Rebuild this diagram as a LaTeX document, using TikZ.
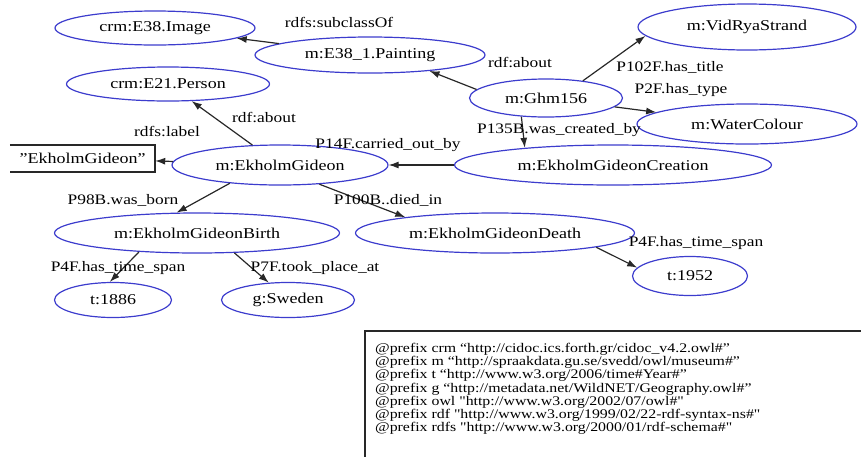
\documentclass[tikz,border=0pt]{standalone}
\usepackage{fontspec}
\usetikzlibrary{shapes.geometric,arrows.meta}
\newfontfamily\rdffont[FakeStretch=1.2]{Liberation Serif}
\definecolor{nodeblue}{RGB}{60,60,205}
\definecolor{edgegray}{RGB}{40,40,40}

\begin{document}
\begin{tikzpicture}[x=1pt, y=-1pt,
	main/.style = {draw=nodeblue, ellipse, line width=1.2pt, inner sep=0pt, font=\rdffont\fontsize{15}{18}\selectfont},
	wh/.style 2 args = {minimum width=#1pt, minimum height=#2pt},
	lit/.style = {rectangle, inner sep=0pt, font=\rdffont\fontsize{15}{18}\selectfont},
	lbl/.style = {inner sep=0pt, font=\rdffont\fontsize{14.5}{17}\selectfont},
	arr/.style = {-{Latex[length=10pt,width=7pt]}, draw=edgegray, line width=1.2pt}]
	\useasboundingbox (0,0) rectangle (861,456);
	\node[main, wh={200}{34}] (img) at (155,28) {crm:E38.Image};
	\node[main, wh={230}{36}] (pnt) at (370,55) {m:E38\_1.Painting};
	\node[main, wh={203}{34}] (per) at (168,84) {crm:E21.Person};
	\node[main, wh={218}{46}] (vid) at (747,27) {m:VidRyaStrand};
	\node[main, wh={153}{38}] (ghm) at (546,98) {m:Ghm156};
	\node[main, wh={220}{40}] (wat) at (747,124) {m:WaterColour};
	\node[main, wh={317}{40}] (cre) at (613,165) {m:EkholmGideonCreation};
	\node[main, wh={216}{40}] (eg) at (280,165) {m:EkholmGideon};
	\node[lit, wh={145}{27}] (lit) at (82.5,158.5) {”EkholmGideon”};
	\node[main, wh={285}{40}] (bir) at (197,233) {m:EkholmGideonBirth};
	\node[main, wh={279}{40}] (dth) at (495,233) {m:EkholmGideonDeath};
	\node[main, wh={117}{35}] (t1) at (113,300) {t:1886};
	\node[main, wh={133}{35}] (swe) at (288,300) {g:Sweden};
	\node[main, wh={115}{39}] (t2) at (690,276) {t:1952};
	\draw[edgegray, line width=1.5pt] (lit.north west) -| (lit.south east) -- (lit.south west);

	\draw[arr] (pnt) -- (img) node[lbl] at (339,22) {rdfs:subclassOf};
	\draw[arr] (ghm.173) -- (pnt.-15) node[lbl] at (520,62) {rdf:about};
	\draw[arr] (ghm.25) -- (vid.185) node[lbl] at (670,67) {P102F.has\_title};
	\draw[arr] (ghm) -- (wat) node[lbl] at (681,90) {P2F.has\_type};
	\draw[arr] (ghm.-143) -- (cre.169) node[lbl] at (559,130) {P135B.was\_created\_by};
	\draw[arr] (cre) -- (eg) node[lbl] at (388,145) {P14F.carried\_out\_by};
	\draw[arr] (eg) -- (per) node[lbl] at (264,117) {rdf:about};
	\draw[arr] (eg) -- (lit) node[lbl] at (167,131) {rdfs:label};
	\draw[arr] (eg.200) -- (bir.135) node[lbl] at (123,200) {P98B.was\_born};
	\draw[arr] (eg.-26) -- (dth.170) node[lbl] at (388,200) {P100B..died\_in};
	\draw[arr] (bir.-162) -- (t1.100) node[lbl] at (118,268) {P4F.has\_time\_span};
	\draw[arr] (bir.-28) -- (swe.138) node[lbl] at (315,268) {P7F.took\_place\_at};
	\draw[arr] (dth.-8) -- (t2.171) node[lbl] at (696,243) {P4F.has\_time\_span};

	\draw[edgegray, line width=1.5pt] (365,470) |- (880,331);
	\node[anchor=north west, inner sep=0pt, align=left, font=\rdffont\fontsize{13.2}{13.2}\selectfont] (pre) at (375,343) {@prefix crm “http://cidoc.ics.forth.gr/cidoc\_v4.2.owl\#”\\
		@prefix m “http://spraakdata.gu.se/svedd/owl/museum\#”\\
		@prefix t “http://www.w3.org/2006/time\#Year\#”\\
		@prefix g “http://metadata.net/WildNET/Geography.owl\#”\\
		@prefix owl "http://www.w3.org/2002/07/owl\#"\\
		@prefix rdf "http://www.w3.org/1999/02/22-rdf-syntax-ns\#"\\
		@prefix rdfs "http://www.w3.org/2000/01/rdf-schema\#"};
\end{tikzpicture}
\end{document}
